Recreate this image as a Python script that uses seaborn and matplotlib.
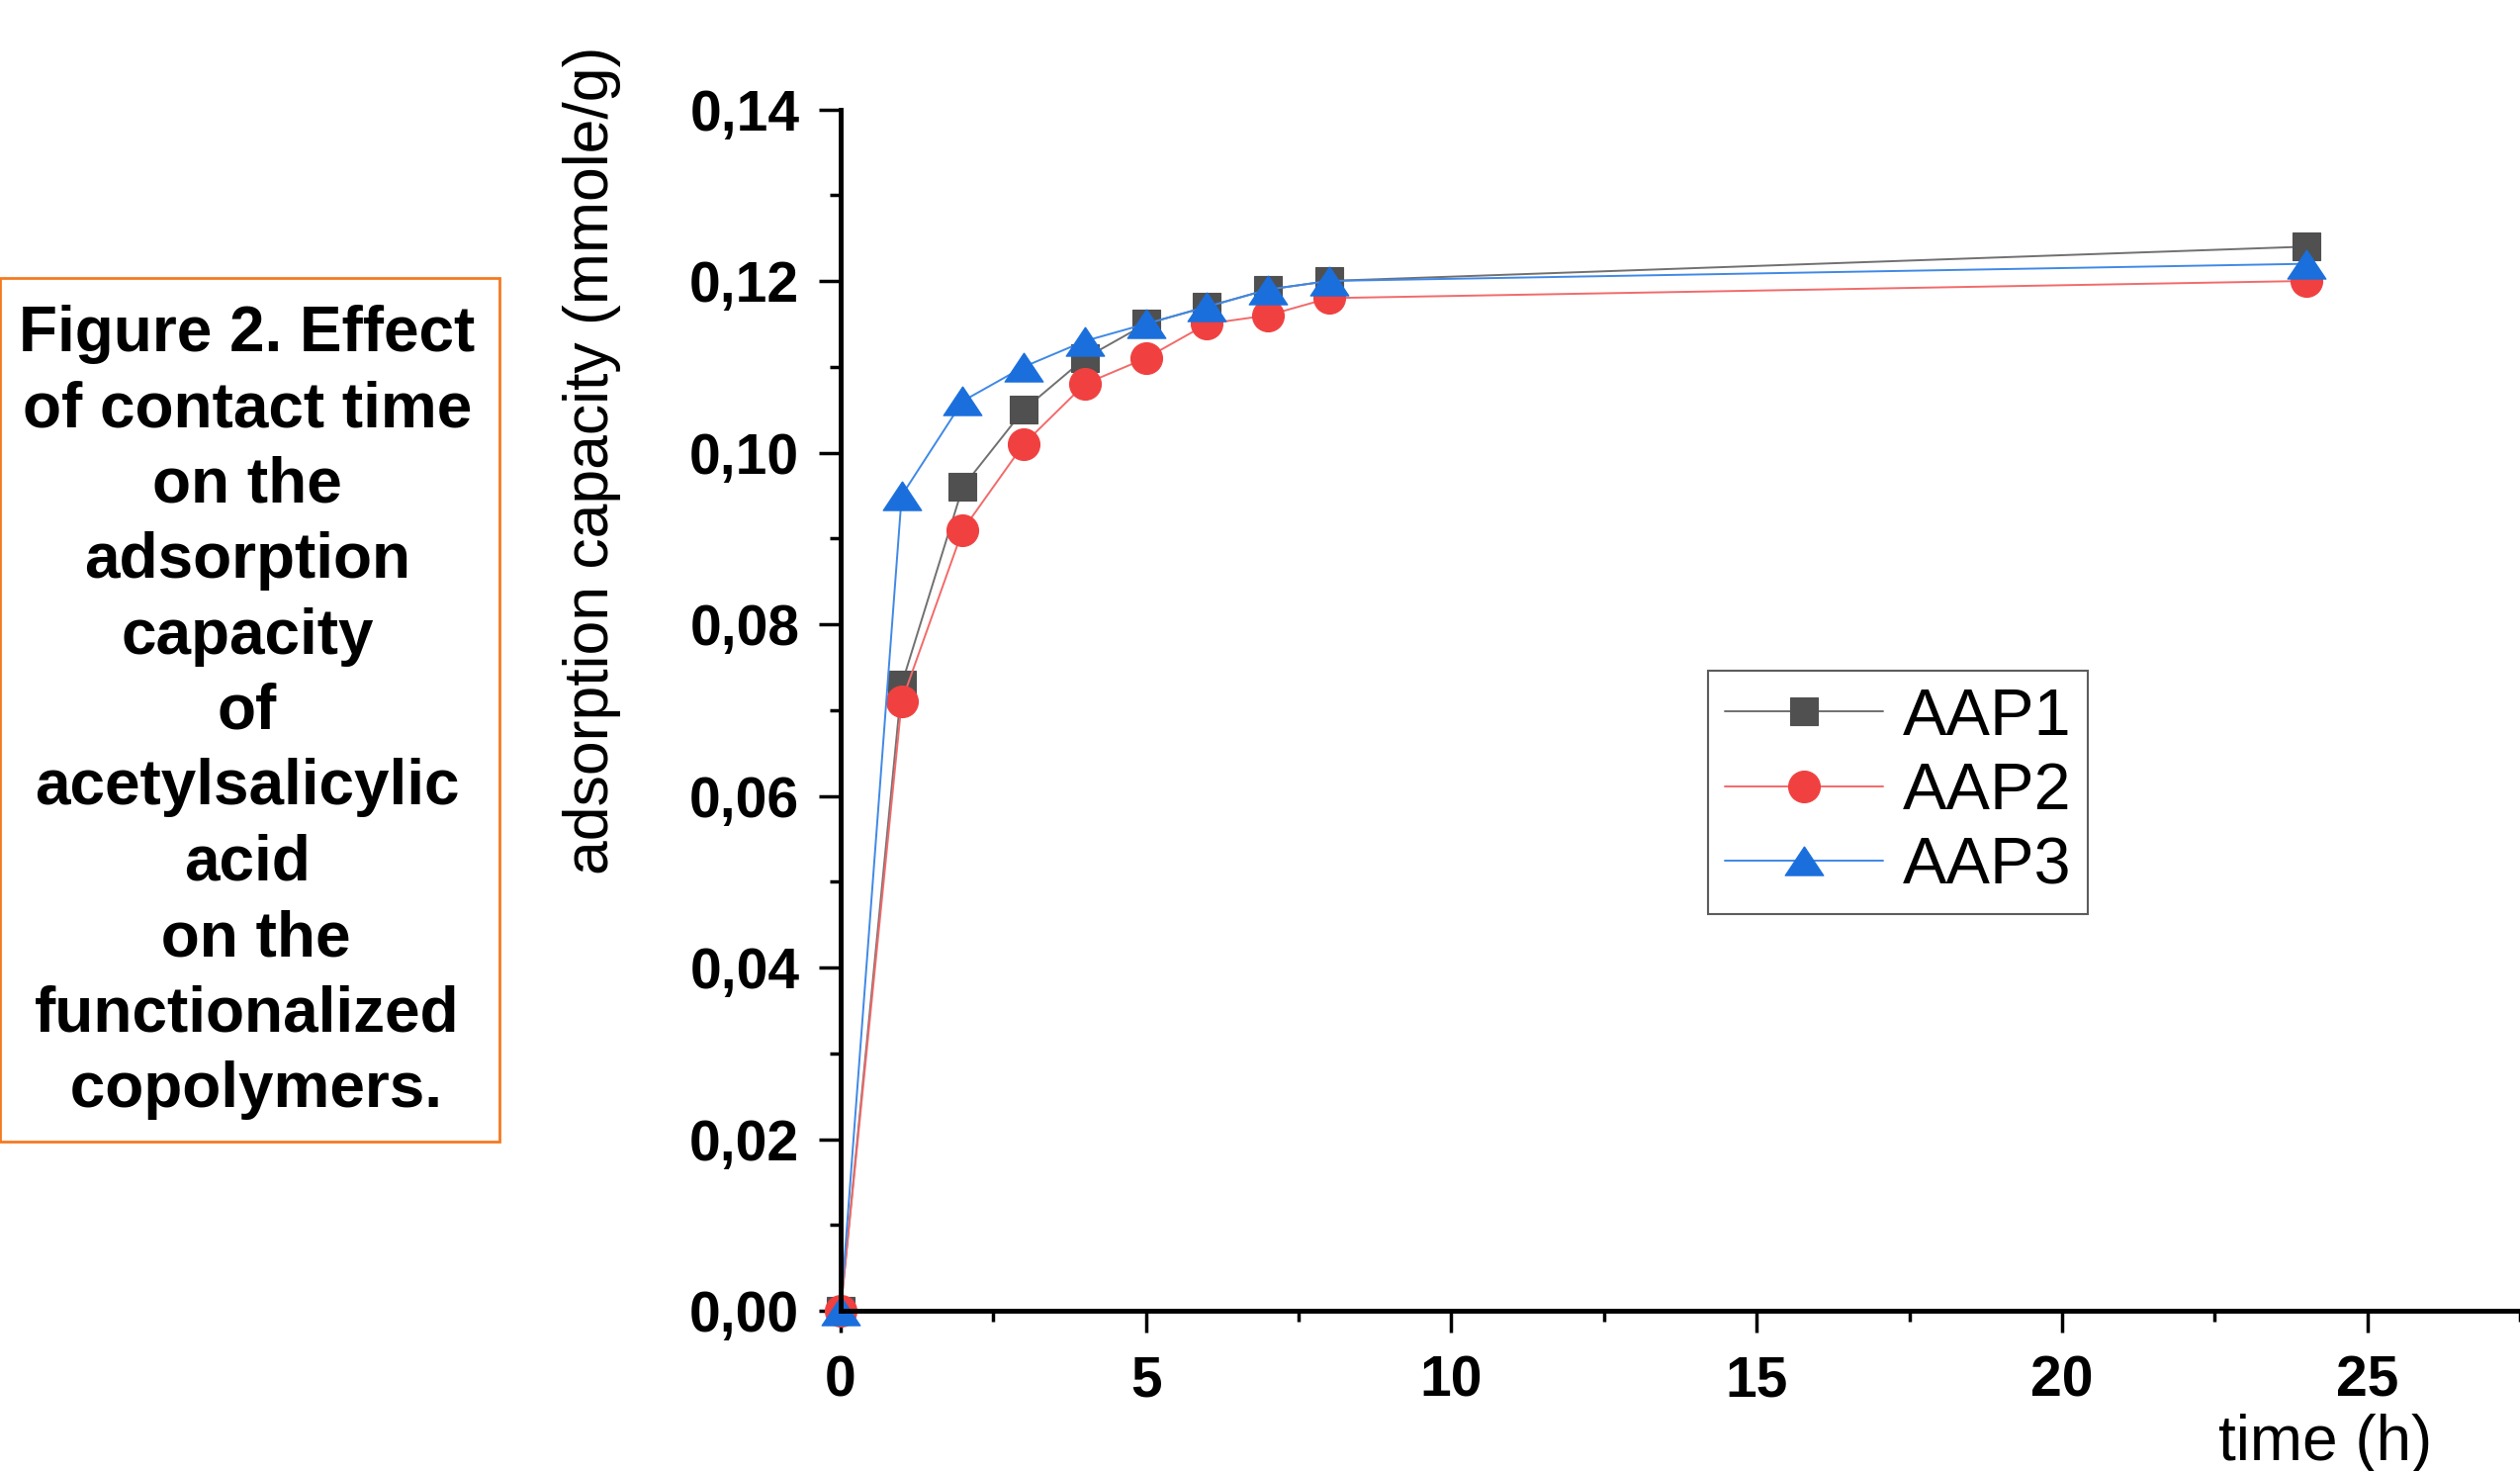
import numpy as np
import pandas as pd
import matplotlib
matplotlib.use("Agg")
import matplotlib.pyplot as plt
import seaborn as sns
from matplotlib.patches import Rectangle
from matplotlib.ticker import MultipleLocator, FuncFormatter

# contact time (h) and adsorption capacity (mmole/g)
time_h = [0, 1, 2, 3, 4, 5, 6, 7, 8, 24]
aap1 = [0.000, 0.073, 0.096, 0.105, 0.111, 0.115, 0.117, 0.119, 0.120, 0.124]
aap2 = [0.000, 0.071, 0.091, 0.101, 0.108, 0.111, 0.115, 0.116, 0.118, 0.120]
aap3 = [0.000, 0.095, 0.106, 0.110, 0.113, 0.115, 0.117, 0.119, 0.120, 0.122]

series_names = ["AAP1", "AAP2", "AAP3"]
caption_lines = ["Figure 2. Effect", "of contact time", "on the", "adsorption",
                 "capacity", "of", "acetylsalicylic", "acid", " on the",
                 "functionalized", " copolymers."]

df = pd.DataFrame({"time": time_h * 3,
                   "q": aap1 + aap2 + aap3,
                   "sample": np.repeat(series_names, len(time_h))})

sns.set_style("white")
plt.rcParams["font.family"] = ["Liberation Sans", "DejaVu Sans"]
plt.rcParams["text.color"] = "black"
plt.rcParams["xtick.color"] = "black"
plt.rcParams["ytick.color"] = "black"

fig = plt.figure(figsize=(25.48, 14.87), dpi=100)
ax = fig.add_axes([850 / 2548, 1 - 1325 / 1487, 1 - 850 / 2548, (1325 - 110.5) / 1487])

# flat triangle like the original (wider than tall)
flat_tri = [(0, 1), (-1.33, -1), (1.33, -1), (0, 1)]

# marker / line styles per sample
styles = {
    "AAP1": dict(marker="s", markersize=20, color="#505050", line="#707070"),
    "AAP2": dict(marker="o", markersize=23, color="#f04040", line="#f26a6a"),
    "AAP3": dict(marker=flat_tri, markersize=28, color="#1a6fdc", line="#3f88e6"),
}

handles = []
for name in series_names:
    st = styles[name]
    sub = df[df["sample"] == name]
    sns.lineplot(data=sub, x="time", y="q", ax=ax, color=st["line"], linewidth=1.4,
                 marker=st["marker"], markersize=st["markersize"],
                 markerfacecolor=st["color"], markeredgecolor=st["color"],
                 markeredgewidth=0.8, clip_on=False, legend=False)
    handles.append(ax.lines[-1])

ax.set_xlim(0, 27.5)
ax.set_ylim(0, 0.14)
ax.xaxis.set_major_locator(MultipleLocator(5))
ax.xaxis.set_minor_locator(MultipleLocator(2.5))
ax.yaxis.set_major_locator(MultipleLocator(0.02))
ax.yaxis.set_minor_locator(MultipleLocator(0.01))
ax.yaxis.set_major_formatter(FuncFormatter(lambda v, p: f"{v:.2f}".replace(".", ",")))

for side in ["top", "right"]:
    ax.spines[side].set_visible(False)
for side in ["left", "bottom"]:
    ax.spines[side].set_linewidth(3.5)
    ax.spines[side].set_color("black")

ax.tick_params(which="major", direction="out", length=16, width=2.5, color="black",
               labelsize=41, pad=14, labelcolor="black")
ax.tick_params(axis="x", which="major", pad=16)
ax.tick_params(which="minor", direction="out", length=8, width=2.5, color="black")
ax.tick_params(left=True, bottom=True, which="both")
for lab in ax.get_xticklabels() + ax.get_yticklabels():
    lab.set_fontweight("bold")

ax.set_xlabel("")
ax.set_ylabel("")
fig.text(598 / 2548, 1 - 465 / 1487, "adsorption capacity (mmole/g)", rotation=90,
         ha="center", va="center", fontsize=45, color="black")
fig.text(2351 / 2548, 1 - 1476 / 1487, "time (h)", ha="center", va="baseline",
         fontsize=46, color="black")

leg = ax.legend(handles, series_names, loc="upper left",
                bbox_to_anchor=((1727 - 850) / 1698, (1325 - 678) / 1214.5),
                borderaxespad=0, fontsize=48, frameon=True, fancybox=False,
                edgecolor="#333333", handlelength=2.4, handletextpad=0.3,
                labelspacing=0.2, borderpad=0.25)
leg.get_frame().set_linewidth(1.5)
for t in leg.get_texts():
    t.set_color("black")

# caption box on the left
fig.patches.append(Rectangle((0, 1 - 1154 / 1487), 505 / 2548, (1154 - 281) / 1487,
                             transform=fig.transFigure, fill=False,
                             edgecolor="#f47a20", linewidth=2))
fig.text(250 / 2548, 1 - 720 / 1487, "\n".join(caption_lines), ha="center", va="center",
         multialignment="center", fontsize=46, fontweight="bold", linespacing=1.35,
         color="black")

fig.savefig("out.png", dpi=100)
